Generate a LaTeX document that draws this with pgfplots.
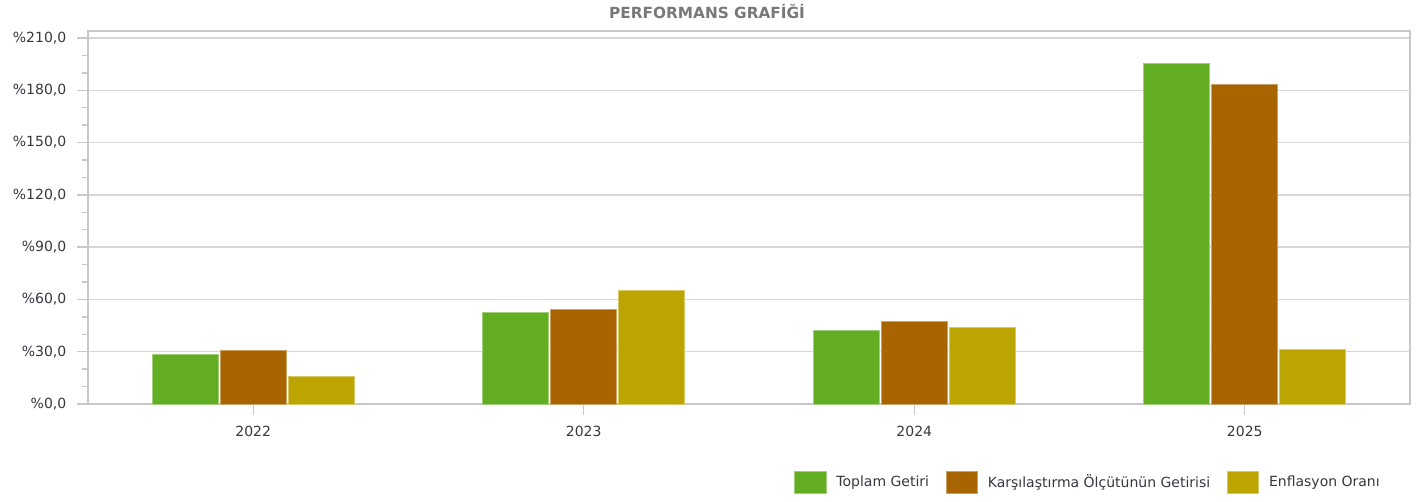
\documentclass[border=0pt]{standalone}
\usepackage{pgfplots}
\pgfplotsset{compat=1.18}
\usepackage{fontspec}
\setmainfont{DejaVu Sans}
\definecolor{cgreen}{RGB}{99,173,34}
\definecolor{cbrown}{RGB}{168,100,0}
\definecolor{cyellow}{RGB}{188,165,0}
\definecolor{gridc}{RGB}{215,215,215}
\definecolor{axc}{RGB}{200,200,200}
\definecolor{txt}{RGB}{55,55,65}
\definecolor{titc}{RGB}{120,120,120}
\begin{document}
\begin{tikzpicture}
\begin{axis}[
  scale only axis,
  width=991.5pt, height=279.75pt,
  xmin=-0.5, xmax=3.5,
  ymin=0, ymax=214,
  ybar=1.5pt, bar width=49.5pt,
  xtick={0,1,2,3},
  xticklabels={2022,2023,2024,2025},
  ytick={0,30,...,210},
  minor y tick num=2,
  tick align=outside,
  major tick length=8.25pt,
  minor tick length=4.5pt,
  every tick/.style={axc, line width=1pt},
  xtick pos=bottom, ytick pos=left,
  ymajorgrids,
  major grid style={gridc, line width=1.1pt},
  axis line style={axc, line width=1.1pt},
  /pgf/number format/assume math mode=true,
  yticklabel={\%\pgfmathprintnumber[fixed,fixed zerofill,precision=1,use comma]{\tick}},
  tick label style={font=\fontsize{10.5}{12}\selectfont, text=txt},
  yticklabel style={xshift=-4.5pt},
  xticklabel style={yshift=-4.5pt},
  title={PERFORMANS GRAFİĞİ},
  title style={font=\fontsize{11.5}{13}\selectfont\bfseries, text=titc, anchor=center, inner sep=0pt, at={(axis description cs:0.5,1)}, yshift=9pt, xshift=-31.5pt},
  legend columns=3,
  legend style={draw=none, fill=none, anchor=east, at={(axis description cs:1,0)}, xshift=-12pt, yshift=-58.5pt,
     font=\fontsize{10.5}{12}\selectfont, text=txt,
     /tikz/every even column/.append style={column sep=5pt},
     nodes={inner xsep=7.5pt}},
  legend image code/.code={\fill[#1] (0pt,-8.25pt) rectangle (23.5pt,8.25pt);},
]
\addplot[fill=cgreen, draw=white!40!cgreen, line width=0.6pt] coordinates {(0,28.5) (1,52.3) (2,42.1) (3,195.5)};
\addplot[fill=cbrown, draw=white!40!cbrown, line width=0.6pt] coordinates {(0,30.6) (1,54.5) (2,47.2) (3,183.2)};
\addplot[fill=cyellow, draw=white!40!cyellow, line width=0.6pt] coordinates {(0,15.9) (1,64.9) (2,44.0) (3,31.4)};
\legend{Toplam Getiri, Karşılaştırma Ölçütünün Getirisi, Enflasyon Oranı}
\end{axis}
\path (current axis.south west) ++(-66pt,-72.75pt) rectangle ++(1064.25pt,375.75pt);
\end{tikzpicture}
\end{document}
